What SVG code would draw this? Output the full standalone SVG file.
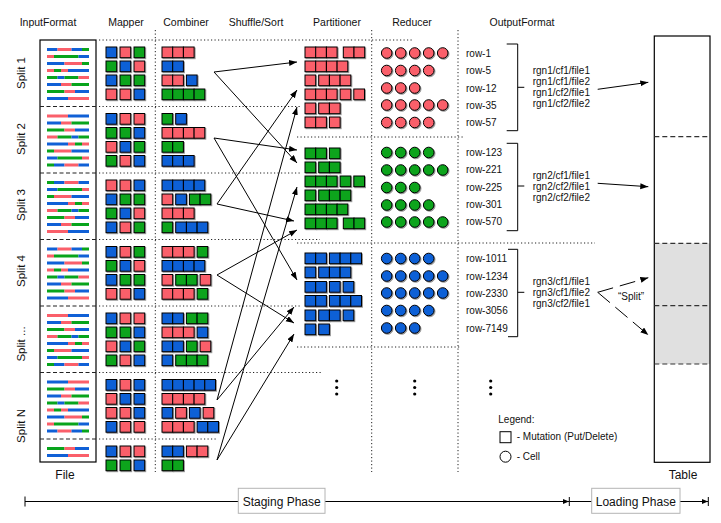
<svg xmlns="http://www.w3.org/2000/svg" xmlns:xlink="http://www.w3.org/1999/xlink" width="721" height="523" viewBox="0 0 721 523">
<style>
text{font-family:"Liberation Sans",Arial,sans-serif;fill:#111}
.hd{font-size:10.5px;text-anchor:middle}
.sp{font-size:11.5px;text-anchor:middle}
.t10{font-size:10px}
.lbl{font-size:12px;text-anchor:middle}
.b{fill:#1060d6}.r{fill:#fa5f6a}.g{fill:#08a41c}
.cells rect,.cells circle{stroke:#000;stroke-width:1}
.dot{stroke:#222;stroke-width:1;stroke-dasharray:1.2 2.3;fill:none}
.dash{stroke:#222;stroke-width:1.2;stroke-dasharray:4 2.5;fill:none}
.tdash{stroke:#333;stroke-width:1.2;stroke-dasharray:5 3;fill:none}
.arr{stroke:#000;stroke-width:1;fill:none;marker-end:url(#ah)}
.ph{stroke:#000;stroke-width:1;fill:none}
.box{fill:#fff;stroke:#b4b4b4;stroke-width:1}
</style>
<defs>
<filter id="sh" x="-10%" y="-10%" width="130%" height="130%"><feDropShadow dx="1" dy="1" stdDeviation="0.5" flood-color="#000" flood-opacity="0.4"/></filter>
<marker id="ah" markerUnits="userSpaceOnUse" markerWidth="9" markerHeight="7" refX="8" refY="3" orient="auto"><path d="M0,0 L8,3 L0,6 z" fill="#000"/></marker>
<marker id="ph" markerUnits="userSpaceOnUse" markerWidth="7" markerHeight="5" refX="6" refY="2.5" orient="auto"><path d="M0,0 L6,2.5 L0,5 z" fill="#000"/></marker>
<g id="p1">
<rect class="b" x="47" y="8" width="10.5" height="3"/><rect class="r" x="57.5" y="8" width="14" height="3"/><rect class="b" x="71.5" y="8" width="10.5" height="3"/><rect class="g" x="82" y="8" width="7" height="3"/>
<rect class="r" x="47" y="15" width="7" height="3"/><rect class="g" x="54" y="15" width="24.5" height="3"/><rect class="b" x="78.5" y="15" width="10.5" height="3"/>
<rect class="b" x="47" y="22" width="17.5" height="3"/><rect class="r" x="64.5" y="22" width="17.5" height="3"/><rect class="g" x="82" y="22" width="7" height="3"/>
<rect class="r" x="47" y="29" width="7" height="3"/><rect class="g" x="54" y="29" width="7" height="3"/><rect class="r" x="61" y="29" width="7" height="3"/><rect class="b" x="68" y="29" width="21" height="3"/>
<rect class="g" x="47" y="36" width="10.5" height="3"/><rect class="b" x="57.5" y="36" width="7" height="3"/><rect class="g" x="64.5" y="36" width="14" height="3"/><rect class="r" x="78.5" y="36" width="10.5" height="3"/>
<rect class="b" x="47" y="43" width="14" height="3"/><rect class="r" x="61" y="43" width="10.5" height="3"/><rect class="g" x="71.5" y="43" width="17.5" height="3"/>
<rect class="g" x="47" y="50" width="17.5" height="3"/><rect class="r" x="64.5" y="50" width="10.5" height="3"/><rect class="b" x="75" y="50" width="14" height="3"/>
<rect class="b" x="47" y="57" width="21" height="3"/><rect class="r" x="68" y="57" width="21" height="3"/>
</g>
<g id="p2">
<rect class="r" x="47" y="8" width="21" height="3"/><rect class="b" x="68" y="8" width="21" height="3"/>
<rect class="b" x="47" y="15" width="14" height="3"/><rect class="r" x="61" y="15" width="10.5" height="3"/><rect class="g" x="71.5" y="15" width="17.5" height="3"/>
<rect class="g" x="47" y="22" width="17.5" height="3"/><rect class="r" x="64.5" y="22" width="10.5" height="3"/><rect class="b" x="75" y="22" width="14" height="3"/>
<rect class="r" x="47" y="29" width="10.5" height="3"/><rect class="g" x="57.5" y="29" width="14" height="3"/><rect class="b" x="71.5" y="29" width="7" height="3"/><rect class="g" x="78.5" y="29" width="10.5" height="3"/>
<rect class="b" x="47" y="36" width="21" height="3"/><rect class="r" x="68" y="36" width="7" height="3"/><rect class="g" x="75" y="36" width="7" height="3"/><rect class="r" x="82" y="36" width="7" height="3"/>
<rect class="g" x="47" y="43" width="7" height="3"/><rect class="r" x="54" y="43" width="17.5" height="3"/><rect class="b" x="71.5" y="43" width="17.5" height="3"/>
<rect class="b" x="47" y="50" width="10.5" height="3"/><rect class="g" x="57.5" y="50" width="24.5" height="3"/><rect class="r" x="82" y="50" width="7" height="3"/>
<rect class="g" x="47" y="57" width="7" height="3"/><rect class="b" x="54" y="57" width="10.5" height="3"/><rect class="r" x="64.5" y="57" width="14" height="3"/><rect class="b" x="78.5" y="57" width="10.5" height="3"/>
</g>
<g id="p3">
<rect class="g" x="47" y="8" width="7" height="3"/><rect class="b" x="54" y="8" width="10.5" height="3"/><rect class="r" x="64.5" y="8" width="14" height="3"/><rect class="b" x="78.5" y="8" width="10.5" height="3"/>
<rect class="b" x="47" y="15" width="10.5" height="3"/><rect class="g" x="57.5" y="15" width="24.5" height="3"/><rect class="r" x="82" y="15" width="7" height="3"/>
<rect class="g" x="47" y="22" width="7" height="3"/><rect class="r" x="54" y="22" width="17.5" height="3"/><rect class="b" x="71.5" y="22" width="17.5" height="3"/>
<rect class="b" x="47" y="29" width="21" height="3"/><rect class="r" x="68" y="29" width="7" height="3"/><rect class="g" x="75" y="29" width="7" height="3"/><rect class="r" x="82" y="29" width="7" height="3"/>
<rect class="r" x="47" y="36" width="10.5" height="3"/><rect class="g" x="57.5" y="36" width="14" height="3"/><rect class="b" x="71.5" y="36" width="7" height="3"/><rect class="g" x="78.5" y="36" width="10.5" height="3"/>
<rect class="g" x="47" y="43" width="17.5" height="3"/><rect class="r" x="64.5" y="43" width="10.5" height="3"/><rect class="b" x="75" y="43" width="14" height="3"/>
<rect class="b" x="47" y="50" width="14" height="3"/><rect class="r" x="61" y="50" width="10.5" height="3"/><rect class="g" x="71.5" y="50" width="17.5" height="3"/>
<rect class="r" x="47" y="57" width="21" height="3"/><rect class="b" x="68" y="57" width="21" height="3"/>
</g>
<g id="pn">
<rect class="b" x="47" y="8" width="21" height="3"/><rect class="r" x="68" y="8" width="21" height="3"/>
<rect class="g" x="47" y="15" width="17.5" height="3"/><rect class="r" x="64.5" y="15" width="10.5" height="3"/><rect class="b" x="75" y="15" width="14" height="3"/>
<rect class="b" x="47" y="22" width="14" height="3"/><rect class="r" x="61" y="22" width="10.5" height="3"/><rect class="g" x="71.5" y="22" width="17.5" height="3"/>
<rect class="g" x="47" y="29" width="10.5" height="3"/><rect class="b" x="57.5" y="29" width="7" height="3"/><rect class="g" x="64.5" y="29" width="14" height="3"/><rect class="r" x="78.5" y="29" width="10.5" height="3"/>
<rect class="r" x="47" y="36" width="7" height="3"/><rect class="g" x="54" y="36" width="7" height="3"/><rect class="r" x="61" y="36" width="7" height="3"/><rect class="b" x="68" y="36" width="21" height="3"/>
<rect class="b" x="47" y="43" width="17.5" height="3"/><rect class="r" x="64.5" y="43" width="17.5" height="3"/><rect class="g" x="82" y="43" width="7" height="3"/>
<rect class="r" x="47" y="50" width="7" height="3"/><rect class="g" x="54" y="50" width="24.5" height="3"/><rect class="b" x="78.5" y="50" width="10.5" height="3"/>
<rect class="b" x="47" y="57" width="10.5" height="3"/><rect class="r" x="57.5" y="57" width="14" height="3"/><rect class="b" x="71.5" y="57" width="10.5" height="3"/><rect class="g" x="82" y="57" width="7" height="3"/>
</g>
</defs>
<rect width="721" height="523" fill="#fff"/>

<g id="headers">
<text class="hd" x="48" y="26">InputFormat</text>
<text class="hd" x="126" y="26">Mapper</text>
<text class="hd" x="186" y="26">Combiner</text>
<text class="hd" x="256" y="26">Shuffle/Sort</text>
<text class="hd" x="337" y="26">Partitioner</text>
<text class="hd" x="412" y="26">Reducer</text>
<text class="hd" x="522" y="26">OutputFormat</text>
</g>

<g id="grid">
<path class="dot" d="M155.3,30 V472 M371.7,30 V472 M458,30 V472"/>
<path class="dot" d="M99,40 H413 M99,106.5 H300 M99,173 H300 M99,239.5 H320 M99,306 H300 M99,372.5 H322 M99,439 H218"/>
<path class="dot" d="M297,137 H463 M297,243 H595 M297,347 H460"/>
</g>

<g id="input-file">
<rect x="40" y="40" width="56" height="422" fill="#fff" stroke="#000" stroke-width="1.2"/>
<use href="#p1" y="40"/>
<use href="#p2" y="106.5"/>
<use href="#p3" y="173"/>
<use href="#p1" y="239.5"/>
<use href="#p2" y="306"/>
<use href="#pn" y="372.5"/>
<rect class="g" x="47" y="447" width="17.5" height="3"/><rect class="r" x="64.5" y="447" width="10.5" height="3"/><rect class="b" x="75" y="447" width="14" height="3"/>
<rect class="b" x="47" y="454" width="21" height="3"/><rect class="r" x="68" y="454" width="21" height="3"/>
<path class="dash" d="M40,106.5 H96 M40,173 H96 M40,239.5 H96 M40,306 H96 M40,372.5 H96 M40,439 H96"/>
<text class="sp" transform="translate(25,73) rotate(-90)">Split 1</text>
<text class="sp" transform="translate(25,139) rotate(-90)">Split 2</text>
<text class="sp" transform="translate(25,205) rotate(-90)">Split 3</text>
<text class="sp" transform="translate(25,271) rotate(-90)">Split 4</text>
<text class="sp" transform="translate(25,344) rotate(-90)">Split ...</text>
<text class="sp" transform="translate(25,426) rotate(-90)">Split N</text>
<text class="lbl" x="65" y="479">File</text>
</g>

<g id="mapper" class="cells" filter="url(#sh)">
<rect class="b" x="106" y="47" width="10.7" height="10.7"/><rect class="r" x="120" y="47" width="10.7" height="10.7"/><rect class="g" x="134" y="47" width="10.7" height="10.7"/>
<rect class="g" x="106" y="61" width="10.7" height="10.7"/><rect class="b" x="120" y="61" width="10.7" height="10.7"/><rect class="r" x="134" y="61" width="10.7" height="10.7"/>
<rect class="b" x="106" y="75" width="10.7" height="10.7"/><rect class="g" x="120" y="75" width="10.7" height="10.7"/><rect class="g" x="134" y="75" width="10.7" height="10.7"/>
<rect class="r" x="106" y="89" width="10.7" height="10.7"/><rect class="r" x="120" y="89" width="10.7" height="10.7"/><rect class="b" x="134" y="89" width="10.7" height="10.7"/>

<rect class="b" x="106" y="113.5" width="10.7" height="10.7"/><rect class="r" x="120" y="113.5" width="10.7" height="10.7"/><rect class="r" x="134" y="113.5" width="10.7" height="10.7"/>
<rect class="g" x="106" y="127.5" width="10.7" height="10.7"/><rect class="g" x="120" y="127.5" width="10.7" height="10.7"/><rect class="b" x="134" y="127.5" width="10.7" height="10.7"/>
<rect class="r" x="106" y="141.5" width="10.7" height="10.7"/><rect class="b" x="120" y="141.5" width="10.7" height="10.7"/><rect class="g" x="134" y="141.5" width="10.7" height="10.7"/>
<rect class="g" x="106" y="155.5" width="10.7" height="10.7"/><rect class="r" x="120" y="155.5" width="10.7" height="10.7"/><rect class="b" x="134" y="155.5" width="10.7" height="10.7"/>

<rect class="r" x="106" y="180" width="10.7" height="10.7"/><rect class="r" x="120" y="180" width="10.7" height="10.7"/><rect class="b" x="134" y="180" width="10.7" height="10.7"/>
<rect class="b" x="106" y="194" width="10.7" height="10.7"/><rect class="g" x="120" y="194" width="10.7" height="10.7"/><rect class="g" x="134" y="194" width="10.7" height="10.7"/>
<rect class="g" x="106" y="208" width="10.7" height="10.7"/><rect class="b" x="120" y="208" width="10.7" height="10.7"/><rect class="r" x="134" y="208" width="10.7" height="10.7"/>
<rect class="b" x="106" y="222" width="10.7" height="10.7"/><rect class="r" x="120" y="222" width="10.7" height="10.7"/><rect class="g" x="134" y="222" width="10.7" height="10.7"/>

<rect class="b" x="106" y="246.5" width="10.7" height="10.7"/><rect class="r" x="120" y="246.5" width="10.7" height="10.7"/><rect class="g" x="134" y="246.5" width="10.7" height="10.7"/>
<rect class="g" x="106" y="260.5" width="10.7" height="10.7"/><rect class="b" x="120" y="260.5" width="10.7" height="10.7"/><rect class="r" x="134" y="260.5" width="10.7" height="10.7"/>
<rect class="b" x="106" y="274.5" width="10.7" height="10.7"/><rect class="g" x="120" y="274.5" width="10.7" height="10.7"/><rect class="g" x="134" y="274.5" width="10.7" height="10.7"/>
<rect class="r" x="106" y="288.5" width="10.7" height="10.7"/><rect class="r" x="120" y="288.5" width="10.7" height="10.7"/><rect class="b" x="134" y="288.5" width="10.7" height="10.7"/>

<rect class="b" x="106" y="313" width="10.7" height="10.7"/><rect class="r" x="120" y="313" width="10.7" height="10.7"/><rect class="r" x="134" y="313" width="10.7" height="10.7"/>
<rect class="g" x="106" y="327" width="10.7" height="10.7"/><rect class="g" x="120" y="327" width="10.7" height="10.7"/><rect class="b" x="134" y="327" width="10.7" height="10.7"/>
<rect class="r" x="106" y="341" width="10.7" height="10.7"/><rect class="b" x="120" y="341" width="10.7" height="10.7"/><rect class="g" x="134" y="341" width="10.7" height="10.7"/>
<rect class="g" x="106" y="355" width="10.7" height="10.7"/><rect class="r" x="120" y="355" width="10.7" height="10.7"/><rect class="b" x="134" y="355" width="10.7" height="10.7"/>

<rect class="b" x="106" y="379.5" width="10.7" height="10.7"/><rect class="r" x="120" y="379.5" width="10.7" height="10.7"/><rect class="b" x="134" y="379.5" width="10.7" height="10.7"/>
<rect class="r" x="106" y="393.5" width="10.7" height="10.7"/><rect class="b" x="120" y="393.5" width="10.7" height="10.7"/><rect class="b" x="134" y="393.5" width="10.7" height="10.7"/>
<rect class="r" x="106" y="407.5" width="10.7" height="10.7"/><rect class="r" x="120" y="407.5" width="10.7" height="10.7"/><rect class="b" x="134" y="407.5" width="10.7" height="10.7"/>
<rect class="b" x="106" y="421.5" width="10.7" height="10.7"/><rect class="r" x="120" y="421.5" width="10.7" height="10.7"/><rect class="r" x="134" y="421.5" width="10.7" height="10.7"/>

<rect class="b" x="106" y="446" width="10.7" height="10.7"/><rect class="r" x="120" y="446" width="10.7" height="10.7"/><rect class="r" x="134" y="446" width="10.7" height="10.7"/>
<rect class="g" x="106" y="460" width="10.7" height="10.7"/><rect class="g" x="120" y="460" width="10.7" height="10.7"/><rect class="b" x="134" y="460" width="10.7" height="10.7"/>
</g>

<g id="combiner" class="cells" filter="url(#sh)">
<rect class="r" x="162" y="47" width="10.7" height="10.7"/><rect class="r" x="172.7" y="47" width="10.7" height="10.7"/><rect class="r" x="183.4" y="47" width="10.7" height="10.7"/>
<rect class="b" x="162" y="61" width="10.7" height="10.7"/><rect class="b" x="172.7" y="61" width="10.7" height="10.7"/>
<rect class="r" x="162" y="75" width="10.7" height="10.7"/><rect class="r" x="172.7" y="75" width="10.7" height="10.7"/><rect class="b" x="186.4" y="75" width="10.7" height="10.7"/>
<rect class="g" x="162" y="89" width="10.7" height="10.7"/><rect class="g" x="172.7" y="89" width="10.7" height="10.7"/><rect class="g" x="183.4" y="89" width="10.7" height="10.7"/><rect class="g" x="194.1" y="89" width="10.7" height="10.7"/>

<rect class="g" x="162" y="113.5" width="10.7" height="10.7"/><rect class="b" x="175.7" y="113.5" width="10.7" height="10.7"/>
<rect class="r" x="162" y="127.5" width="10.7" height="10.7"/><rect class="r" x="172.7" y="127.5" width="10.7" height="10.7"/><rect class="r" x="183.4" y="127.5" width="10.7" height="10.7"/><rect class="r" x="194.1" y="127.5" width="10.7" height="10.7"/>
<rect class="g" x="162" y="141.5" width="10.7" height="10.7"/><rect class="g" x="172.7" y="141.5" width="10.7" height="10.7"/>
<rect class="b" x="162" y="155.5" width="10.7" height="10.7"/><rect class="b" x="172.7" y="155.5" width="10.7" height="10.7"/><rect class="b" x="183.4" y="155.5" width="10.7" height="10.7"/>

<rect class="b" x="162" y="180" width="10.7" height="10.7"/><rect class="b" x="172.7" y="180" width="10.7" height="10.7"/><rect class="b" x="183.4" y="180" width="10.7" height="10.7"/><rect class="b" x="194.1" y="180" width="10.7" height="10.7"/>
<rect class="r" x="162" y="194" width="10.7" height="10.7"/><rect class="b" x="175.7" y="194" width="10.7" height="10.7"/><rect class="g" x="189.4" y="194" width="10.7" height="10.7"/><rect class="g" x="200.1" y="194" width="10.7" height="10.7"/>
<rect class="r" x="162" y="208" width="10.7" height="10.7"/><rect class="r" x="172.7" y="208" width="10.7" height="10.7"/><rect class="r" x="183.4" y="208" width="10.7" height="10.7"/>
<rect class="g" x="162" y="222" width="10.7" height="10.7"/><rect class="b" x="175.7" y="222" width="10.7" height="10.7"/><rect class="b" x="186.4" y="222" width="10.7" height="10.7"/><rect class="b" x="197.1" y="222" width="10.7" height="10.7"/>

<rect class="r" x="162" y="246.5" width="10.7" height="10.7"/><rect class="r" x="172.7" y="246.5" width="10.7" height="10.7"/><rect class="r" x="183.4" y="246.5" width="10.7" height="10.7"/><rect class="g" x="197.1" y="246.5" width="10.7" height="10.7"/>
<rect class="b" x="162" y="260.5" width="10.7" height="10.7"/><rect class="b" x="172.7" y="260.5" width="10.7" height="10.7"/><rect class="b" x="183.4" y="260.5" width="10.7" height="10.7"/><rect class="b" x="194.1" y="260.5" width="10.7" height="10.7"/>
<rect class="r" x="162" y="274.5" width="10.7" height="10.7"/><rect class="g" x="175.7" y="274.5" width="10.7" height="10.7"/><rect class="g" x="186.4" y="274.5" width="10.7" height="10.7"/><rect class="r" x="200.1" y="274.5" width="10.7" height="10.7"/>
<rect class="r" x="162" y="288.5" width="10.7" height="10.7"/><rect class="r" x="172.7" y="288.5" width="10.7" height="10.7"/><rect class="r" x="183.4" y="288.5" width="10.7" height="10.7"/><rect class="g" x="197.1" y="288.5" width="10.7" height="10.7"/>

<rect class="b" x="162" y="313" width="10.7" height="10.7"/><rect class="b" x="172.7" y="313" width="10.7" height="10.7"/><rect class="g" x="186.4" y="313" width="10.7" height="10.7"/><rect class="g" x="197.1" y="313" width="10.7" height="10.7"/>
<rect class="r" x="162" y="327" width="10.7" height="10.7"/><rect class="r" x="172.7" y="327" width="10.7" height="10.7"/><rect class="r" x="183.4" y="327" width="10.7" height="10.7"/><rect class="b" x="197.1" y="327" width="10.7" height="10.7"/>
<rect class="b" x="162" y="341" width="10.7" height="10.7"/><rect class="b" x="172.7" y="341" width="10.7" height="10.7"/><rect class="g" x="186.4" y="341" width="10.7" height="10.7"/><rect class="r" x="200.1" y="341" width="10.7" height="10.7"/>
<rect class="b" x="162" y="355" width="10.7" height="10.7"/><rect class="g" x="175.7" y="355" width="10.7" height="10.7"/><rect class="g" x="186.4" y="355" width="10.7" height="10.7"/><rect class="g" x="197.1" y="355" width="10.7" height="10.7"/>

<rect class="b" x="162" y="379.5" width="10.7" height="10.7"/><rect class="b" x="172.7" y="379.5" width="10.7" height="10.7"/><rect class="b" x="183.4" y="379.5" width="10.7" height="10.7"/><rect class="b" x="194.1" y="379.5" width="10.7" height="10.7"/><rect class="b" x="204.8" y="379.5" width="10.7" height="10.7"/>
<rect class="r" x="162" y="393.5" width="10.7" height="10.7"/><rect class="r" x="172.7" y="393.5" width="10.7" height="10.7"/><rect class="r" x="183.4" y="393.5" width="10.7" height="10.7"/><rect class="r" x="194.1" y="393.5" width="10.7" height="10.7"/>
<rect class="b" x="162" y="407.5" width="10.7" height="10.7"/><rect class="r" x="175.7" y="407.5" width="10.7" height="10.7"/><rect class="b" x="189.4" y="407.5" width="10.7" height="10.7"/><rect class="r" x="203.1" y="407.5" width="10.7" height="10.7"/>
<rect class="r" x="162" y="421.5" width="10.7" height="10.7"/><rect class="r" x="172.7" y="421.5" width="10.7" height="10.7"/><rect class="r" x="183.4" y="421.5" width="10.7" height="10.7"/><rect class="b" x="197.1" y="421.5" width="10.7" height="10.7"/><rect class="b" x="207.8" y="421.5" width="10.7" height="10.7"/>

<rect class="b" x="162" y="446" width="10.7" height="10.7"/><rect class="b" x="172.7" y="446" width="10.7" height="10.7"/><rect class="r" x="186.4" y="446" width="10.7" height="10.7"/><rect class="r" x="197.1" y="446" width="10.7" height="10.7"/>
<rect class="g" x="162" y="460" width="10.7" height="10.7"/><rect class="g" x="172.7" y="460" width="10.7" height="10.7"/>
</g>

<g id="partitioner" class="cells" filter="url(#sh)">
<rect class="r" x="305" y="47" width="10.7" height="10.7"/><rect class="r" x="315.7" y="47" width="10.7" height="10.7"/><rect class="r" x="326.4" y="47" width="10.7" height="10.7"/><rect class="r" x="343.3" y="47" width="10.7" height="10.7"/><rect class="r" x="354" y="47" width="10.7" height="10.7"/>
<rect class="r" x="305" y="61" width="10.7" height="10.7"/><rect class="r" x="315.7" y="61" width="10.7" height="10.7"/><rect class="r" x="326.4" y="61" width="10.7" height="10.7"/><rect class="r" x="337.1" y="61" width="10.7" height="10.7"/>
<rect class="r" x="305" y="75" width="10.7" height="10.7"/><rect class="r" x="318.7" y="75" width="10.7" height="10.7"/><rect class="r" x="329.4" y="75" width="10.7" height="10.7"/><rect class="r" x="340.1" y="75" width="10.7" height="10.7"/>
<rect class="r" x="305" y="89" width="10.7" height="10.7"/><rect class="r" x="315.7" y="89" width="10.7" height="10.7"/><rect class="r" x="326.4" y="89" width="10.7" height="10.7"/><rect class="r" x="340.1" y="89" width="10.7" height="10.7"/><rect class="r" x="353.8" y="89" width="10.7" height="10.7"/>
<rect class="r" x="305" y="103" width="10.7" height="10.7"/><rect class="r" x="318.7" y="103" width="10.7" height="10.7"/><rect class="r" x="329.4" y="103" width="10.7" height="10.7"/>
<rect class="r" x="305" y="117" width="10.7" height="10.7"/><rect class="r" x="315.7" y="117" width="10.7" height="10.7"/><rect class="r" x="329.4" y="117" width="10.7" height="10.7"/>

<rect class="g" x="305" y="148" width="10.7" height="10.7"/><rect class="g" x="315.7" y="148" width="10.7" height="10.7"/><rect class="g" x="329.4" y="148" width="10.7" height="10.7"/>
<rect class="g" x="305" y="162" width="10.7" height="10.7"/><rect class="g" x="318.7" y="162" width="10.7" height="10.7"/><rect class="g" x="329.4" y="162" width="10.7" height="10.7"/>
<rect class="g" x="305" y="176" width="10.7" height="10.7"/><rect class="g" x="315.7" y="176" width="10.7" height="10.7"/><rect class="g" x="326.4" y="176" width="10.7" height="10.7"/><rect class="g" x="340.1" y="176" width="10.7" height="10.7"/><rect class="g" x="353.8" y="176" width="10.7" height="10.7"/>
<rect class="g" x="305" y="190" width="10.7" height="10.7"/><rect class="g" x="318.7" y="190" width="10.7" height="10.7"/><rect class="g" x="329.4" y="190" width="10.7" height="10.7"/><rect class="g" x="340.1" y="190" width="10.7" height="10.7"/>
<rect class="g" x="305" y="204" width="10.7" height="10.7"/><rect class="g" x="315.7" y="204" width="10.7" height="10.7"/><rect class="g" x="326.4" y="204" width="10.7" height="10.7"/><rect class="g" x="337.1" y="204" width="10.7" height="10.7"/>
<rect class="g" x="305" y="218" width="10.7" height="10.7"/><rect class="g" x="315.7" y="218" width="10.7" height="10.7"/><rect class="g" x="326.4" y="218" width="10.7" height="10.7"/><rect class="g" x="343.3" y="218" width="10.7" height="10.7"/><rect class="g" x="354" y="218" width="10.7" height="10.7"/>

<rect class="b" x="305" y="253" width="10.7" height="10.7"/><rect class="b" x="315.7" y="253" width="10.7" height="10.7"/><rect class="b" x="329.4" y="253" width="10.7" height="10.7"/><rect class="b" x="340.1" y="253" width="10.7" height="10.7"/><rect class="b" x="350.8" y="253" width="10.7" height="10.7"/>
<rect class="b" x="305" y="267" width="10.7" height="10.7"/><rect class="b" x="318.7" y="267" width="10.7" height="10.7"/><rect class="b" x="329.4" y="267" width="10.7" height="10.7"/><rect class="b" x="340.1" y="267" width="10.7" height="10.7"/>
<rect class="b" x="305" y="281.5" width="10.7" height="10.7"/><rect class="b" x="315.7" y="281.5" width="10.7" height="10.7"/><rect class="b" x="329.4" y="281.5" width="10.7" height="10.7"/><rect class="b" x="343.1" y="281.5" width="10.7" height="10.7"/>
<rect class="b" x="305" y="295.5" width="10.7" height="10.7"/><rect class="b" x="315.7" y="295.5" width="10.7" height="10.7"/><rect class="b" x="329.4" y="295.5" width="10.7" height="10.7"/><rect class="b" x="340.1" y="295.5" width="10.7" height="10.7"/><rect class="b" x="350.8" y="295.5" width="10.7" height="10.7"/>
<rect class="b" x="305" y="310" width="10.7" height="10.7"/><rect class="b" x="318.7" y="310" width="10.7" height="10.7"/><rect class="b" x="329.4" y="310" width="10.7" height="10.7"/><rect class="b" x="343.1" y="310" width="10.7" height="10.7"/>
<rect class="b" x="305" y="324" width="10.7" height="10.7"/><rect class="b" x="318.7" y="324" width="10.7" height="10.7"/>
</g>

<g id="reducer" class="cells" filter="url(#sh)">
<circle class="r" cx="386.7" cy="53" r="5.3"/><circle class="r" cx="400.7" cy="53" r="5.3"/><circle class="r" cx="414.7" cy="53" r="5.3"/><circle class="r" cx="428.7" cy="53" r="5.3"/><circle class="r" cx="442.7" cy="53" r="5.3"/>
<circle class="r" cx="386.7" cy="70.5" r="5.3"/><circle class="r" cx="400.7" cy="70.5" r="5.3"/><circle class="r" cx="414.7" cy="70.5" r="5.3"/><circle class="r" cx="428.7" cy="70.5" r="5.3"/>
<circle class="r" cx="386.7" cy="88" r="5.3"/><circle class="r" cx="400.7" cy="88" r="5.3"/><circle class="r" cx="414.7" cy="88" r="5.3"/>
<circle class="r" cx="386.7" cy="105" r="5.3"/><circle class="r" cx="400.7" cy="105" r="5.3"/><circle class="r" cx="414.7" cy="105" r="5.3"/><circle class="r" cx="428.7" cy="105" r="5.3"/><circle class="r" cx="442.7" cy="105" r="5.3"/>
<circle class="r" cx="386.7" cy="122.5" r="5.3"/><circle class="r" cx="400.7" cy="122.5" r="5.3"/><circle class="r" cx="414.7" cy="122.5" r="5.3"/><circle class="r" cx="428.7" cy="122.5" r="5.3"/>

<circle class="g" cx="386.7" cy="152.5" r="5.3"/><circle class="g" cx="400.7" cy="152.5" r="5.3"/><circle class="g" cx="414.7" cy="152.5" r="5.3"/><circle class="g" cx="428.7" cy="152.5" r="5.3"/>
<circle class="g" cx="386.7" cy="170" r="5.3"/><circle class="g" cx="400.7" cy="170" r="5.3"/><circle class="g" cx="414.7" cy="170" r="5.3"/><circle class="g" cx="428.7" cy="170" r="5.3"/><circle class="g" cx="442.7" cy="170" r="5.3"/>
<circle class="g" cx="386.7" cy="187.5" r="5.3"/><circle class="g" cx="400.7" cy="187.5" r="5.3"/><circle class="g" cx="414.7" cy="187.5" r="5.3"/>
<circle class="g" cx="386.7" cy="205" r="5.3"/><circle class="g" cx="400.7" cy="205" r="5.3"/><circle class="g" cx="414.7" cy="205" r="5.3"/><circle class="g" cx="428.7" cy="205" r="5.3"/>
<circle class="g" cx="386.7" cy="222" r="5.3"/><circle class="g" cx="400.7" cy="222" r="5.3"/><circle class="g" cx="414.7" cy="222" r="5.3"/><circle class="g" cx="428.7" cy="222" r="5.3"/><circle class="g" cx="442.7" cy="222" r="5.3"/>

<circle class="b" cx="386.7" cy="258.5" r="5.3"/><circle class="b" cx="400.7" cy="258.5" r="5.3"/><circle class="b" cx="414.7" cy="258.5" r="5.3"/><circle class="b" cx="428.7" cy="258.5" r="5.3"/>
<circle class="b" cx="386.7" cy="276" r="5.3"/><circle class="b" cx="400.7" cy="276" r="5.3"/><circle class="b" cx="414.7" cy="276" r="5.3"/><circle class="b" cx="428.7" cy="276" r="5.3"/><circle class="b" cx="442.7" cy="276" r="5.3"/>
<circle class="b" cx="386.7" cy="293" r="5.3"/><circle class="b" cx="400.7" cy="293" r="5.3"/><circle class="b" cx="414.7" cy="293" r="5.3"/><circle class="b" cx="428.7" cy="293" r="5.3"/><circle class="b" cx="442.7" cy="293" r="5.3"/>
<circle class="b" cx="386.7" cy="310.5" r="5.3"/><circle class="b" cx="400.7" cy="310.5" r="5.3"/><circle class="b" cx="414.7" cy="310.5" r="5.3"/><circle class="b" cx="428.7" cy="310.5" r="5.3"/>
<circle class="b" cx="386.7" cy="328" r="5.3"/><circle class="b" cx="400.7" cy="328" r="5.3"/><circle class="b" cx="414.7" cy="328" r="5.3"/>
</g>

<g id="ellipses" fill="#000">
<circle cx="336.7" cy="381" r="1.6"/><circle cx="336.7" cy="387.5" r="1.6"/><circle cx="336.7" cy="394" r="1.6"/>
<circle cx="414.7" cy="381" r="1.6"/><circle cx="414.7" cy="387.5" r="1.6"/><circle cx="414.7" cy="394" r="1.6"/>
<circle cx="490.7" cy="381" r="1.6"/><circle cx="490.7" cy="387.5" r="1.6"/><circle cx="490.7" cy="394" r="1.6"/>
</g>

<g id="output-rows" class="t10">
<text x="466" y="56.5">row-1</text><text x="466" y="74">row-5</text><text x="466" y="91.5">row-12</text><text x="466" y="108.5">row-35</text><text x="466" y="126">row-57</text>
<text x="466" y="155.5">row-123</text><text x="466" y="173">row-221</text><text x="466" y="190.5">row-225</text><text x="466" y="207.5">row-301</text><text x="466" y="225">row-570</text>
<text x="466" y="262">row-1011</text><text x="466" y="279.5">row-1234</text><text x="466" y="296.5">row-2330</text><text x="466" y="314">row-3056</text><text x="466" y="331.5">row-7149</text>
</g>

<g id="brackets" fill="none" stroke="#000" stroke-width="1">
<path d="M506.7,44 H517.7 V130.7 H506.7 M517.7,87.3 H524.3"/>
<path d="M506.7,143.3 H517.7 V230.7 H506.7 M517.7,186 H524.3"/>
<path d="M508,249.3 H517.7 V336.7 H508 M517.7,292.3 H524.3"/>
</g>

<g id="hfiles" class="t10">
<text x="532.7" y="74">rgn1/cf1/file1</text><text x="532.7" y="85">rgn1/cf1/file2</text><text x="532.7" y="96">rgn1/cf2/file1</text><text x="532.7" y="107">rgn1/cf2/file2</text>
<text x="532.7" y="179">rgn2/cf1/file1</text><text x="532.7" y="190">rgn2/cf2/file1</text><text x="532.7" y="201">rgn2/cf2/file2</text>
<text x="532.7" y="285">rgn3/cf1/file1</text><text x="532.7" y="296">rgn3/cf1/file2</text><text x="532.7" y="307">rgn3/cf2/file1</text>
<text x="631" y="300" text-anchor="middle">“Split”</text>
</g>

<g id="table">
<rect x="654.3" y="243.3" width="55.7" height="120.7" fill="#e0e0e0"/>
<rect x="654.3" y="36" width="55.7" height="426.3" fill="none" stroke="#000" stroke-width="1.2"/>
<path class="tdash" d="M654.3,136.7 H710 M654.3,243.3 H710 M654.3,305.7 H710 M654.3,364 H710"/>
<text class="lbl" x="683" y="479">Table</text>
</g>

<g id="legend" class="t10">
<text x="498.3" y="423">Legend:</text>
<rect x="500" y="431.7" width="11" height="11" fill="#fff" stroke="#000" stroke-width="1"/>
<text x="516.7" y="439.5">- Mutation (Put/Delete)</text>
<circle cx="505.5" cy="456.7" r="5.5" fill="#fff" stroke="#000" stroke-width="1"/>
<text x="516.7" y="460">- Cell</text>
</g>

<g id="connectors">
<path class="arr" d="M214,72 L297,62"/>
<path class="arr" d="M214,72 L297,163"/>
<path class="arr" d="M214,138 L297,150"/>
<path class="arr" d="M214,138 L297,280"/>
<path class="arr" d="M217,204 L297,90"/>
<path class="arr" d="M217,204 L294,221"/>
<path class="arr" d="M217,275 L297,230"/>
<path class="arr" d="M217,275 L294,323"/>
<path class="arr" d="M217,400 L297,107"/>
<path class="arr" d="M217,400 L294,307"/>
<path class="arr" d="M217,460 L297,187"/>
<path class="arr" d="M217,460 L294,334"/>
<path class="arr" d="M597.7,89.3 L648.3,82.3"/>
<path class="arr" d="M597.7,183.3 L648.3,186.7"/>
<path class="arr" stroke-dasharray="16 7" d="M597.7,292.3 L648.3,277.7"/>
<path class="arr" stroke-dasharray="16 7" d="M597.7,292.3 L648.3,335"/>
</g>

<g id="phases">
<path class="ph" d="M25,496.5 V506.5 M569.3,497 V506 M708.3,497 V506"/>
<path class="ph" marker-end="url(#ph)" d="M25,501.5 H569"/>
<path class="ph" marker-end="url(#ph)" d="M569.3,501.5 H708"/>
<rect class="box" x="238.3" y="488.3" width="86.7" height="25"/>
<text class="lbl" x="281.7" y="505.5">Staging Phase</text>
<rect class="box" x="591.7" y="488.3" width="88.3" height="25"/>
<text class="lbl" x="635.8" y="505.5">Loading Phase</text>
</g>
</svg>
